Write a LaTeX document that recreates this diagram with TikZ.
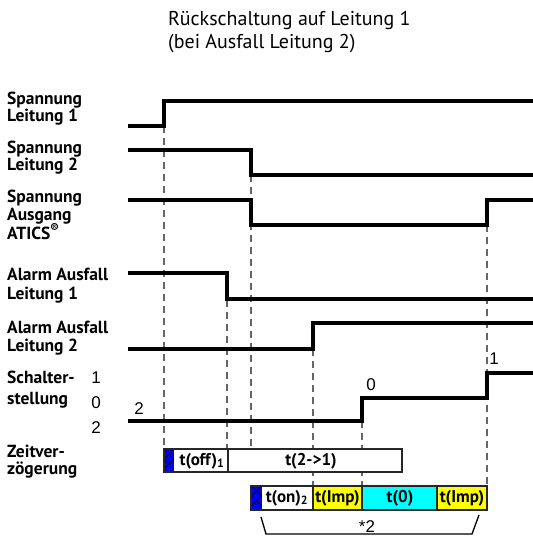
\documentclass[tikz,border=0pt]{standalone}
\usepackage{fontspec}
\setmainfont{PT Sans}
\newfontfamily\numfont{Liberation Sans}
\definecolor{hatchblue}{RGB}{0,0,255}
\definecolor{impyellow}{RGB}{255,255,0}
\definecolor{zerocyan}{RGB}{0,255,255}
\newcommand{\tOne}{164}
\newcommand{\tTwo}{227}
\newcommand{\tThree}{251}
\newcommand{\tFour}{313}
\newcommand{\tFive}{362}
\newcommand{\tSix}{487}
\tikzset{
  sig/.style={line width=3.2pt, line join=miter, line cap=butt},
  guide/.style={draw=black!60, line width=1.2pt, dash pattern=on 7pt off 5pt},
  lab/.style={anchor=base west, inner sep=0pt, font=\bfseries\fontsize{17.5}{19}\selectfont},
  ttl/.style={anchor=base west, inner sep=0pt, font=\fontsize{20}{22}\selectfont},
  num/.style={anchor=base, inner sep=0pt, font=\numfont\fontsize{17}{19}\selectfont},
  barbox/.style={draw=black!85, line width=1.3pt},
  bartxt/.style={inner sep=0pt, font=\bfseries\fontsize{17}{19}\selectfont},
}
\begin{document}
\begin{tikzpicture}[x=1pt, y=-1pt]
\useasboundingbox (0,0) rectangle (533,536);

% heading
\node[ttl] (title1) at (168,25) {Rückschaltung auf Leitung 1};
\node[ttl] (title2) at (168,48) {(bei Ausfall Leitung 2)};

% row labels
\node[lab] (l1a) at (7,104) {Spannung};
\node[lab] (l1b) at (7,121) {Leitung 1};
\node[lab] (l2a) at (7,153) {Spannung};
\node[lab] (l2b) at (7,170) {Leitung 2};
\node[lab] (l3a) at (7,202) {Spannung};
\node[lab] (l3b) at (7,220) {Ausgang};
\node[lab] (l3c) at (7,239) {ATICS\textsuperscript{®}};
\node[lab] (l4a) at (7,280) {Alarm Ausfall};
\node[lab] (l4b) at (7,299) {Leitung 1};
\node[lab] (l5a) at (7,333) {Alarm Ausfall};
\node[lab] (l5b) at (7,351) {Leitung 2};
\node[lab] (l6a) at (7,383) {Schalter-};
\node[lab] (l6b) at (7,404) {stellung};
\node[lab] (l7a) at (7,457) {Zeitver-};
\node[lab] (l7b) at (7,474) {zögerung};

% switch position scale
\node[num] (p1) at (96,383) {1};
\node[num] (p0) at (96,408) {0};
\node[num] (p2) at (96,433) {2};

% dashed time markers
\draw[guide] (\tOne,126) -- (\tOne,449);
\draw[guide] (\tTwo,300) -- (\tTwo,449);
\draw[guide] (\tThree,175) -- (\tThree,449);
\draw[guide] (\tFour,349) -- (\tFour,486);
\draw[guide] (\tFive,421) -- (\tFive,486);
\draw[guide] (\tSix,225) -- (\tSix,486);

% signal traces
\draw[sig] (128,126) -- (\tOne,126) -- (\tOne,101) -- (533,101);
\draw[sig] (128,150) -- (\tThree,150) -- (\tThree,175) -- (533,175);
\draw[sig] (128,200) -- (\tThree,200) -- (\tThree,225) -- (\tSix,225) -- (\tSix,200) -- (533,200);
\draw[sig] (128,273) -- (\tTwo,273) -- (\tTwo,299) -- (533,299);
\draw[sig] (128,349) -- (\tFour,349) -- (\tFour,323) -- (533,323);
\draw[sig] (128,421) -- (\tFive,421) -- (\tFive,398) -- (\tSix,398) -- (\tSix,373) -- (533,373);

% switch state labels on the trace
\node[num] (s2) at (139,414) {2};
\node[num] (s0) at (371,390) {0};
\node[num] (s1) at (494,364) {1};

% first delay bar
\fill[white] (\tOne,449) rectangle (402,472);
\fill[hatchblue] (\tOne,449) rectangle (174,472);
\begin{scope}
  \clip (\tOne,449) rectangle (174,472);
  \foreach \k in {-20,-10,...,30} {
    \draw[line width=0.6pt] (\tOne,449+\k) -- (174,459+\k);
    \draw[line width=0.6pt] (174,449+\k) -- (\tOne,459+\k);
  }
\end{scope}
\draw[barbox] (\tOne,449) rectangle (402,472);
\draw[barbox] (228,449) -- (228,472);
\node[bartxt] (toff) at (202,461) {t(off)\textsubscript{1}};
\node[bartxt] (t21) at (311,461) {t(2->1)};

% second delay bar
\fill[white] (\tThree,486) rectangle (\tFour,510);
\fill[hatchblue] (\tThree,486) rectangle (262,510);
\begin{scope}
  \clip (\tThree,486) rectangle (262,510);
  \foreach \k in {-20,-10,...,30} {
    \draw[line width=0.6pt] (\tThree,486+\k) -- (262,496+\k);
    \draw[line width=0.6pt] (262,486+\k) -- (\tThree,496+\k);
  }
\end{scope}
\fill[impyellow] (\tFour,486) rectangle (\tFive,510);
\fill[zerocyan] (\tFive,486) rectangle (437,510);
\fill[impyellow] (437,486) rectangle (\tSix,510);
\draw[barbox] (\tThree,486) rectangle (\tSix,510);
\foreach \xx in {\tFour,\tFive,437} \draw[barbox] (\xx,486) -- (\xx,510);
\node[bartxt] (ton) at (287,498) {t(on)\textsubscript{2}};
\node[bartxt] (timp1) at (337.5,498) {t(Imp)};
\node[bartxt] (tzero) at (400,498) {t(0)};
\node[bartxt] (timp2) at (462,498) {t(Imp)};

% bracket for the repeated part
\draw[line width=1.3pt] (261,517) -- (266,534) -- (472,534) -- (479,515);
\node[num] (rep) at (367,532) {*2};
\end{tikzpicture}
\end{document}
